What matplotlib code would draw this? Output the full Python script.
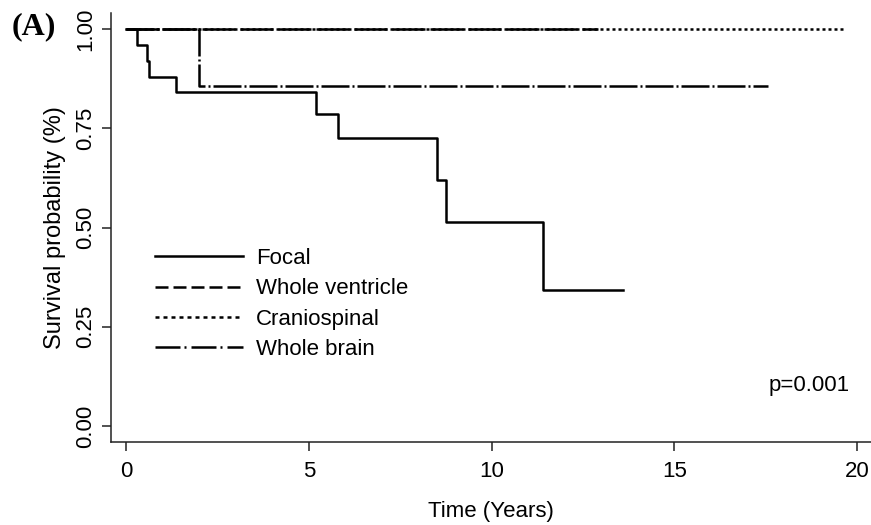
import numpy as np
import matplotlib
matplotlib.use('Agg')
import matplotlib.pyplot as plt
from matplotlib.lines import Line2D

plt.rcParams['font.family'] = ['Liberation Sans', 'DejaVu Sans']
plt.rcParams['lines.scale_dashes'] = False

# =============================================================================
# Data (Kaplan-Meier steps)
# =============================================================================
focal_t = [0, 0.30, 0.58, 0.64, 1.37, 5.2, 5.8, 8.5, 8.75, 11.42, 13.6]
focal_s = [1.0, 0.96, 0.92, 0.88, 0.84, 0.785, 0.726, 0.62, 0.515, 0.343, 0.343]

ventricle_t = [0, 12.9]
ventricle_s = [1.0, 1.0]

cranio_t = [0, 19.7]
cranio_s = [1.0, 1.0]

brain_t = [0, 2.0, 17.56]
brain_s = [1.0, 0.857, 0.857]

labels = ['Focal', 'Whole ventricle', 'Craniospinal', 'Whole brain']
xticks = [0, 5, 10, 15, 20]
yticks = [0.00, 0.25, 0.50, 0.75, 1.00]

# dash patterns (points)
px = 0.72
ls_vent = (0, (33*px, 5*px))
ls_cran = (0, (3*px, 3*px))
ls_brain = (0, (28*px, 3*px, 2*px, 3*px))
ls_vent_leg = (0, (13*px, 5*px))
ls_cran_leg = (0, (4*px, 4*px))
ls_brain_leg = (0, (25*px, 4*px, 2*px, 5*px))

# =============================================================================
# Plot
# =============================================================================
fig = plt.figure(figsize=(8.71, 5.25), dpi=100)
ax = fig.add_axes([111/871, 83/525, 1 - 111/871, (442-13)/525])

lw = 1.8
ax.step(cranio_t, cranio_s, where='post', color='black', lw=lw, linestyle=ls_cran, zorder=2)
ax.step(brain_t, brain_s, where='post', color='black', lw=lw, linestyle=ls_brain, zorder=3)
ax.step(ventricle_t, ventricle_s, where='post', color='black', lw=lw, linestyle=ls_vent, zorder=4)
ax.step(focal_t, focal_s, where='post', color='black', lw=lw, linestyle='-', zorder=5)

ax.set_xlim(-0.41, 20.38)
ax.set_ylim(-0.04, 1.04)
ax.set_xticks(xticks)
ax.set_yticks(yticks)
ax.set_xticklabels([str(x) for x in xticks], fontsize=16)
ax.set_yticklabels(['%.2f' % y for y in yticks], fontsize=16, rotation=90, va='center')

for s in ['top', 'right']:
    ax.spines[s].set_visible(False)
for s in ['left', 'bottom']:
    ax.spines[s].set_linewidth(1.1)
    ax.spines[s].set_color('#222222')
ax.tick_params(axis='both', direction='out', length=6.5, width=1.1, color='#222222')
ax.tick_params(axis='x', pad=7)
ax.tick_params(axis='y', pad=4)

ax.set_xlabel('Time (Years)', fontsize=16, labelpad=14)
ax.set_ylabel('Survival probability (%)', fontsize=17, labelpad=7)

handles = [Line2D([], [], color='black', lw=lw, linestyle='-'),
           Line2D([], [], color='black', lw=lw, linestyle=ls_vent_leg),
           Line2D([], [], color='black', lw=lw, linestyle=ls_cran_leg),
           Line2D([], [], color='black', lw=lw, linestyle=ls_brain_leg)]
ax.legend(handles, labels, loc='upper left', frameon=False, fontsize=16,
          bbox_to_anchor=(155/871, 1 - 248/525), bbox_transform=fig.transFigure,
          borderpad=0, borderaxespad=0, handlelength=3.95, handletextpad=0.6,
          labelspacing=0.42)

fig.text(850/871, 1 - 385/525, 'p=0.001', fontsize=16, ha='right', va='center')
fig.text(12/871, 1 - 27/525, '(A)', fontsize=23, fontweight='bold',
         family='Liberation Serif', ha='left', va='center')

fig.savefig('out.png', dpi=100)
